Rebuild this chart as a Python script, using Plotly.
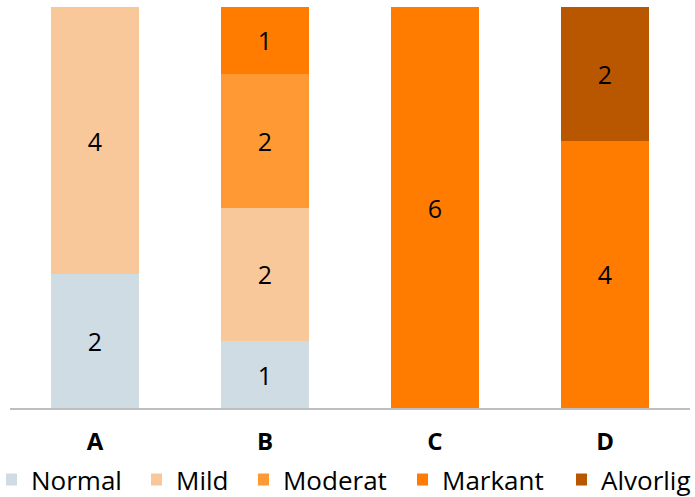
import plotly.graph_objects as go

categories = ["A", "B", "C", "D"]
series_names = ["Normal", "Mild", "Moderat", "Markant", "Alvorlig"]
normal = [2, 1, 0, 0]
mild = [4, 2, 0, 0]
moderat = [0, 2, 0, 0]
markant = [0, 1, 6, 4]
alvorlig = [0, 0, 0, 2]
colors = ["#CFDCE3", "#F9C89A", "#FF9933", "#FF7C00", "#B85700"]
# legend positions as fractions of the whole figure width
legend_x = [0.0086, 0.2173, 0.3712, 0.600, 0.8288]

values = [normal, mild, moderat, markant, alvorlig]
legend_ids = ["legend", "legend2", "legend3", "legend4", "legend5"]

fig = go.Figure()
for name, vals, col, lid in zip(series_names, values, colors, legend_ids):
    fig.add_trace(go.Bar(
        x=categories,
        y=[v if v else None for v in vals],
        name=name,
        legend=lid,
        showlegend=True,
        marker=dict(color=col, line=dict(width=0)),
        text=[str(v) if v else "" for v in vals],
        textposition="inside",
        insidetextanchor="middle",
        textfont=dict(color="black", size=25, family="Open Sans"),
        hoverinfo="skip",
    ))

legend_style = dict(
    orientation="h",
    xref="container",
    xanchor="left",
    y=-0.12, yanchor="top",
    font=dict(size=26, family="Open Sans"),
    itemwidth=30,
    indentation=-15,
    bgcolor="rgba(0,0,0,0)",
)

fig.update_layout(
    showlegend=True,
    barmode="stack",
    bargap=0.48,
    width=695,
    height=497,
    margin=dict(l=10, r=5, t=7, b=89, autoexpand=False),
    plot_bgcolor="white",
    paper_bgcolor="white",
    font=dict(family="Open Sans", color="black"),
    uniformtext=dict(minsize=25, mode="show"),
    xaxis=dict(
        showline=True, linecolor="#BFBFBF", linewidth=2,
        ticks="", ticklabelstandoff=11,
        tickfont=dict(size=24, family="Open Sans", weight="bold"),
        showgrid=False,
    ),
    yaxis=dict(range=[0, 6], visible=False, showgrid=False, zeroline=False),
)
for lid, lx in zip(legend_ids, legend_x):
    fig.update_layout({lid: dict(legend_style, x=lx)})

fig.write_html("out.html")
